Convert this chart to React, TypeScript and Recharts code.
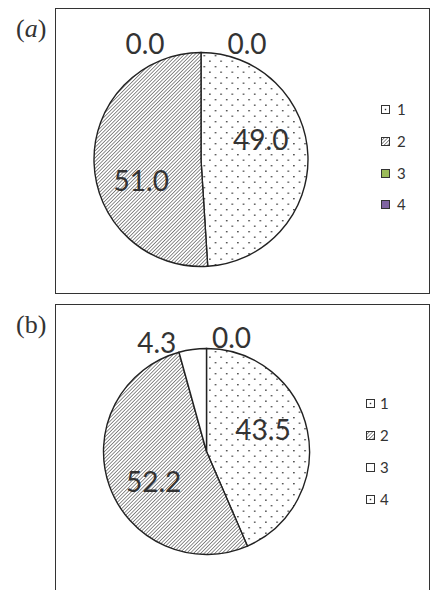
import React from "react";
import { PieChart, Pie, Cell, Legend } from "recharts";

const SERIES_NAMES = ["1", "2", "3", "4"];
const PANEL_A_VALUES = [49.0, 51.0, 0.0, 0.0];
const PANEL_B_VALUES = [43.5, 52.2, 4.3, 0.0];

const FONT = "Lato, 'Open Sans', sans-serif";
const TEXT = "#333";

type FillKind = "dots" | "hatch" | string;

interface PanelProps {
  id: string;
  title: React.ReactNode;
  values: number[];
  fills: FillKind[];
  top: number;
  height: number;
  cx: number;
  cy: number;
  radius: number;
  insideTurn: number;
  outsideNudge: [number, number][];
  legendLeft: number;
  legendTop: number;
  legendStep: number;
  legendGap: number;
}

function fillRef(kind: FillKind, id: string) {
  if (kind === "dots") return `url(#dots-${id})`;
  if (kind === "hatch") return `url(#hatch-${id})`;
  return kind;
}

function LegendIcon({ kind, id }: { kind: FillKind; id: string }) {
  return (
    <svg width={9} height={9} style={{ display: "block" }}>
      <rect
        x={0.5}
        y={0.5}
        width={8}
        height={8}
        fill={kind === "hatch" ? `url(#hatch-${id})` : kind === "dots" ? "#fff" : kind}
        stroke="#333"
        strokeWidth={1}
      />
      {kind === "dots" && <rect x={3.8} y={3.8} width={1.4} height={1.4} fill="#333" />}
    </svg>
  );
}

function Panel(p: PanelProps) {
  const data = p.values.map((v, i) => ({ name: SERIES_NAMES[i], value: v }));
  const RAD = Math.PI / 180;

  const renderLabel = (props: any) => {
    const { cx, cy, midAngle, outerRadius, index, value } = props;
    let x: number;
    let y: number;
    if (value >= 10) {
      const a = (midAngle + p.insideTurn) * RAD;
      const r = outerRadius * 0.59;
      x = cx + r * Math.cos(a);
      y = cy - r * Math.sin(a);
    } else {
      const a = midAngle * RAD;
      const r = outerRadius + 14;
      x = cx + r * Math.cos(a) + p.outsideNudge[index][0];
      y = cy - r * Math.sin(a) + p.outsideNudge[index][1];
    }
    return (
      <text
        key={`lbl-${index}`}
        x={x}
        y={y}
        textAnchor="middle"
        dominantBaseline="central"
        fill={TEXT}
        fontFamily={FONT}
        fontSize={28}
      >
        {value.toFixed(1)}
      </text>
    );
  };

  const renderLegend = () => (
    <div style={{ fontFamily: FONT, fontSize: 15, color: TEXT }}>
      {data.map((d, i) => (
        <div
          key={d.name}
          style={{ height: p.legendStep, display: "flex", alignItems: "center" }}
        >
          <LegendIcon kind={p.fills[i]} id={p.id} />
          <span style={{ marginLeft: p.legendGap, lineHeight: "15px" }}>{d.name}</span>
        </div>
      ))}
    </div>
  );

  return (
    <>
      <div
        style={{
          position: "absolute",
          left: 16,
          top: p.top + 6,
          fontFamily: "'Liberation Serif', serif",
          fontSize: 26,
          color: "#333",
        }}
      >
        {p.title}
      </div>
      <div
        style={{
          position: "absolute",
          left: 55,
          top: p.top,
          width: 375,
          height: p.height,
          boxSizing: "border-box",
          border: "1.5px solid #333",
          background: "#fff",
        }}
      >
        <PieChart
          width={372}
          height={p.height - 3}
          margin={{ top: 0, right: 0, bottom: 0, left: 0 }}
          style={{ position: "absolute", left: 0, top: 0 }}
        >
          <defs>
            <pattern id={`dots-${p.id}`} patternUnits="userSpaceOnUse" width={11.2} height={11}>
              <rect width={11.2} height={11} fill="#fff" />
              <rect x={2} y={2} width={1.4} height={1.4} fill="#333" />
              <rect x={7.6} y={7.5} width={1.4} height={1.4} fill="#333" />
            </pattern>
            <pattern
              id={`hatch-${p.id}`}
              patternUnits="userSpaceOnUse"
              width={2.5}
              height={2.5}
              patternTransform="rotate(45)"
            >
              <rect width={2.5} height={2.5} fill="#fff" />
              <line x1={0} y1={0} x2={0} y2={2.5} stroke="#444" strokeWidth={1.2} />
            </pattern>
          </defs>
          <Pie
            data={data}
            dataKey="value"
            nameKey="name"
            cx={p.cx}
            cy={p.cy}
            outerRadius={p.radius}
            startAngle={90}
            endAngle={-270}
            stroke="#222"
            strokeWidth={1.4}
            labelLine={false}
            label={renderLabel}
            isAnimationActive={false}
          >
            {data.map((d, i) => (
              <Cell key={d.name} fill={fillRef(p.fills[i], p.id)} />
            ))}
          </Pie>
          <Legend
            content={renderLegend}
            wrapperStyle={{
              position: "absolute",
              left: p.legendLeft,
              top: p.legendTop,
              width: 40,
            }}
          />
        </PieChart>
      </div>
    </>
  );
}

export default function App() {
  return (
    <div
      style={{
        position: "absolute",
        left: 0,
        top: 0,
        width: 436,
        height: 590,
        overflow: "hidden",
        background: "#fff",
      }}
    >
      <Panel
        id="a"
        title={
          <span>
            (<i>a</i>)
          </span>
        }
        values={PANEL_A_VALUES}
        fills={["dots", "hatch", "#9bbb59", "#8064a2"]}
        top={8}
        height={286}
        cx={145}
        cy={150.5}
        radius={107}
        insideTurn={17}
        outsideNudge={[
          [0, 0],
          [0, 0],
          [-56, 4],
          [46, 4],
        ]}
        legendLeft={325}
        legendTop={85}
        legendStep={31.7}
        legendGap={7}
      />
      <Panel
        id="b"
        title="(b)"
        values={PANEL_B_VALUES}
        fills={["dots", "hatch", "#fff", "dots"]}
        top={304}
        height={300}
        cx={150.5}
        cy={146.5}
        radius={103}
        insideTurn={10}
        outsideNudge={[
          [0, 0],
          [0, 0],
          [-34, 6],
          [25, 2],
        ]}
        legendLeft={310}
        legendTop={82}
        legendStep={32}
        legendGap={5}
      />
    </div>
  );
}
